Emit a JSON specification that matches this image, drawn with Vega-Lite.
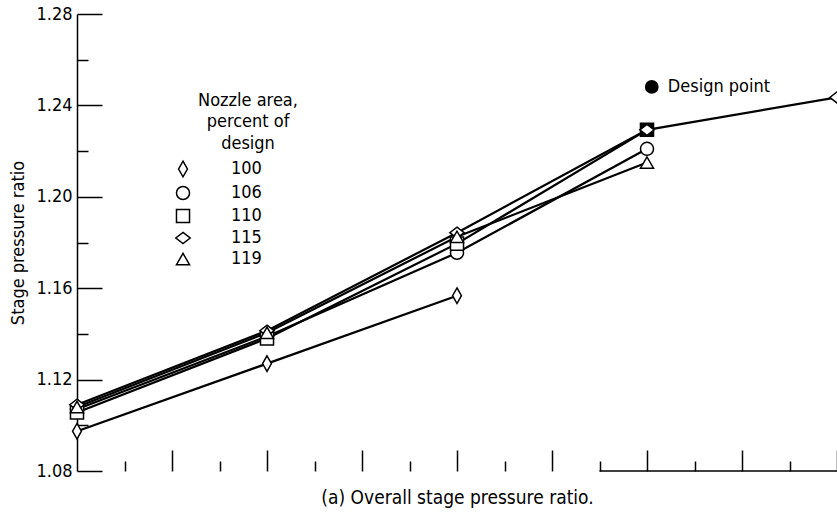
{
  "$schema": "https://vega.github.io/schema/vega-lite/v6.json",
  "width": 760,
  "height": 457,
  "autosize": {"type": "none"},
  "padding": {"left": 77, "top": 14, "right": 0, "bottom": 42},
  "background": "white",
  "config": {
    "view": {"stroke": null},
    "font": "Liberation Sans Narrow, DejaVu Sans Condensed, sans-serif",
    "axis": {
      "grid": false,
      "tickColor": "black",
      "tickWidth": 1.5,
      "domainColor": "black",
      "domainWidth": 1.5,
      "labelColor": "black",
      "titleColor": "black",
      "titleFontWeight": "normal",
      "labelFont": "Liberation Sans Narrow, DejaVu Sans Condensed, sans-serif",
      "titleFont": "Liberation Sans Narrow, DejaVu Sans Condensed, sans-serif"
    }
  },
  "data": {
    "values": [
      {"area": "100", "stage": 0, "ratio": 1.0974, "design": false},
      {"area": "100", "stage": 2, "ratio": 1.1270, "design": false},
      {"area": "100", "stage": 4, "ratio": 1.1567, "design": false},
      {"area": "106", "stage": 0, "ratio": 1.1070, "design": false},
      {"area": "106", "stage": 2, "ratio": 1.1389, "design": false},
      {"area": "106", "stage": 4, "ratio": 1.1755, "design": false},
      {"area": "106", "stage": 6, "ratio": 1.2210, "design": false},
      {"area": "110", "stage": 0, "ratio": 1.1056, "design": false},
      {"area": "110", "stage": 2, "ratio": 1.1380, "design": false},
      {"area": "110", "stage": 4, "ratio": 1.1795, "design": false},
      {"area": "110", "stage": 6, "ratio": 1.2293, "design": true},
      {"area": "115", "stage": 0, "ratio": 1.1090, "design": false},
      {"area": "115", "stage": 2, "ratio": 1.1414, "design": false},
      {"area": "115", "stage": 4, "ratio": 1.1843, "design": false},
      {"area": "115", "stage": 6, "ratio": 1.2293, "design": false},
      {"area": "115", "stage": 8, "ratio": 1.2435, "design": false},
      {"area": "119", "stage": 0, "ratio": 1.1080, "design": false},
      {"area": "119", "stage": 2, "ratio": 1.1405, "design": false},
      {"area": "119", "stage": 4, "ratio": 1.1825, "design": false},
      {"area": "119", "stage": 6, "ratio": 1.2150, "design": false}
    ]
  },
  "layer": [
    {
      "mark": {"type": "line", "color": "black", "strokeWidth": 2.2, "clip": false},
      "encoding": {
        "x": {
          "field": "stage", "type": "quantitative",
          "scale": {"domain": [0, 8], "nice": false, "zero": false},
          "axis": {
            "orient": "bottom",
            "values": [1, 2, 3, 4, 5, 6, 7, 8],
            "tickSize": -21,
            "labels": false,
            "domain": false,
            "title": "(a) Overall stage pressure ratio.",
            "titleFontSize": 19,
            "titlePadding": 17
          }
        },
        "y": {
          "field": "ratio", "type": "quantitative",
          "scale": {"domain": [1.08, 1.28], "nice": false, "zero": false},
          "axis": {
            "orient": "left",
            "values": [1.08, 1.12, 1.16, 1.2, 1.24, 1.28],
            "format": ".2f",
            "tickSize": -25,
            "labelFontSize": 18,
            "labelPadding": 30,
            "title": "Stage pressure ratio",
            "titleFontSize": 18,
            "titlePadding": 8
          }
        },
        "detail": {"field": "area", "type": "nominal"},
        "order": {"field": "stage", "type": "quantitative"}
      }
    },
    {
      "transform": [{"filter": "datum.design"}],
      "mark": {"type": "point", "shape": "square", "filled": true, "fill": "black", "stroke": "black", "strokeWidth": 1.5, "size": 170, "opacity": 1},
      "encoding": {
        "x": {"field": "stage", "type": "quantitative", "axis": null},
        "y": {"field": "ratio", "type": "quantitative", "axis": null}
      }
    },
    {
      "transform": [{"filter": "!datum.design"}],
      "mark": {"type": "point", "filled": true, "fill": "white", "stroke": "black", "strokeWidth": 1.5, "size": 170, "opacity": 1, "clip": false},
      "encoding": {
        "x": {
          "field": "stage", "type": "quantitative",
          "axis": {
            "orient": "bottom",
            "values": [0.5, 1.5, 2.5, 3.5, 4.5, 5.5, 6.5, 7.5],
            "tickSize": -10,
            "labels": false,
            "domain": false,
            "title": null
          }
        },
        "y": {
          "field": "ratio", "type": "quantitative",
          "axis": {
            "orient": "left",
            "values": [1.1, 1.14, 1.18, 1.22, 1.26],
            "tickSize": -11,
            "labels": false,
            "domain": false,
            "title": null
          }
        },
        "shape": {
          "field": "area", "type": "nominal",
          "scale": {
            "domain": ["100", "106", "110", "115", "119"],
            "range": ["M0,-1.2L0.68,0L0,1.2L-0.68,0Z", "circle", "square", "M0,-0.85L1.1,0L0,0.85L-1.1,0Z", "triangle-up"]
          },
          "legend": {
            "title": null,
            "orient": "none",
            "legendX": 97,
            "legendY": 146,
            "symbolStrokeWidth": 1.5,
            "symbolSize": 170,
            "labelFontSize": 18,
            "labelColor": "black",
            "labelOffset": 39,
            "rowPadding": 3,
            "labelFont": "Liberation Sans Narrow, DejaVu Sans Condensed, sans-serif"
          }
        }
      }
    },
    {
      "data": {"values": [{}]},
      "mark": {"type": "text", "text": ["Nozzle area,", "percent of", "design"], "align": "center", "baseline": "top", "lineHeight": 21.5, "fontSize": 18, "color": "black"},
      "encoding": {
        "x": {"datum": 1.8, "type": "quantitative", "axis": null},
        "y": {"datum": 1.2459, "type": "quantitative", "axis": null}
      }
    },
    {
      "data": {"values": [{}]},
      "mark": {"type": "point", "shape": "circle", "filled": true, "color": "black", "size": 190, "opacity": 1},
      "encoding": {
        "x": {"datum": 6.05, "type": "quantitative", "axis": null},
        "y": {"datum": 1.2481, "type": "quantitative", "axis": null}
      }
    },
    {
      "data": {"values": [{}]},
      "mark": {"type": "text", "text": "Design point", "align": "left", "baseline": "middle", "dx": 16, "fontSize": 18, "color": "black"},
      "encoding": {
        "x": {"datum": 6.05, "type": "quantitative", "axis": null},
        "y": {"datum": 1.2481, "type": "quantitative", "axis": null}
      }
    },
    {
      "data": {"values": [{}]},
      "mark": {"type": "rule", "color": "black", "strokeWidth": 1.5},
      "encoding": {
        "x": {"datum": 5.5, "type": "quantitative", "axis": null},
        "x2": {"datum": 8},
        "y": {"datum": 1.08, "type": "quantitative", "axis": null}
      }
    }
  ],
  "resolve": {"axis": {"x": "independent", "y": "independent"}}
}
